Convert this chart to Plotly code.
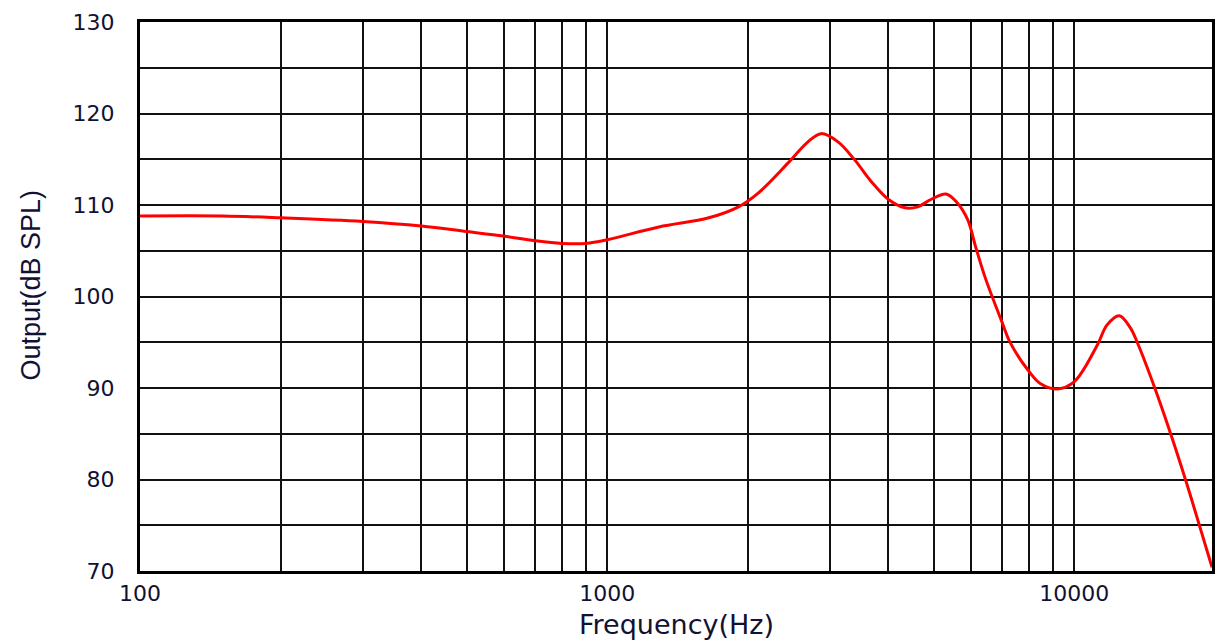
import plotly.graph_objects as go

# Frequency response
freq_hz = [100, 150, 200, 300, 400, 500, 600, 700, 800, 900, 1000, 1290, 1650,
           1910, 2105, 2440, 2690, 2870, 3120, 3390, 3670, 4000, 4340, 4620,
           4930, 5310, 5600, 5910, 6150, 6430, 7000, 7300, 8000, 8450, 9200,
           10000, 11200, 11750, 12480, 13170, 13630, 14890, 16100,
           17340, 18570, 19710]
output_db = [108.8, 108.8, 108.6, 108.2, 107.7, 107.1, 106.6, 106.1, 105.8,
             105.8, 106.2, 107.6, 108.6, 109.8, 111.3, 114.6, 116.9, 117.8,
             116.9, 114.9, 112.6, 110.6, 109.7, 109.8, 110.6, 111.2, 110.3,
             108.4, 105.4, 102.2, 97.2, 94.9, 91.8, 90.5, 89.9, 90.7,
             94.7, 96.9, 97.9, 96.6, 95.0, 89.9, 84.9, 79.8, 74.8, 70.4]

# Axis ticks / grid
x_grid = [100, 200, 300, 400, 500, 600, 700, 800, 900,
          1000, 2000, 3000, 4000, 5000, 6000, 7000, 8000, 9000, 10000]
x_labels = ["100", "", "", "", "", "", "", "", "",
            "1000", "", "", "", "", "", "", "", "", "10000"]
y_grid = [70, 75, 80, 85, 90, 95, 100, 105, 110, 115, 120, 125, 130]
y_labels = ["70", "", "80", "", "90", "", "100", "", "110", "", "120", "", "130"]

x_title = "Frequency(Hz)"
y_title = "Output(dB SPL)"

fig = go.Figure()
fig.add_trace(go.Scatter(
    x=freq_hz, y=output_db, mode="lines",
    line=dict(color="#ff0000", width=3, shape="spline", smoothing=1.0),
    showlegend=False, hoverinfo="x+y",
))

tick_font = dict(family="DejaVu Sans", size=22, color="#111133")

fig.update_layout(
    width=1217, height=641,
    margin=dict(l=140, r=2, t=22, b=70),
    paper_bgcolor="white", plot_bgcolor="white",
    xaxis=dict(
        type="log", range=[2, 4.2946],
        tickmode="array", tickvals=x_grid, ticktext=x_labels,
        showgrid=True, gridcolor="#111111", gridwidth=2,
        showline=True, linecolor="black", linewidth=3, mirror=True,
        ticks="", ticklabelstandoff=1, tickfont=tick_font,
        zeroline=False,
    ),
    yaxis=dict(
        range=[70, 130],
        tickmode="array", tickvals=y_grid, ticktext=y_labels,
        showgrid=True, gridcolor="#111111", gridwidth=2,
        showline=True, linecolor="black", linewidth=3, mirror=True,
        ticks="", ticklabelstandoff=18, tickfont=tick_font,
        zeroline=False,
    ),
    annotations=[
        dict(text=x_title, xref="paper", yref="paper", x=0.5, y=0,
             xanchor="center", yanchor="middle", yshift=-53, showarrow=False,
             font=dict(family="DejaVu Sans", size=27, color="#111133")),
        dict(text=y_title, xref="paper", yref="paper", x=0, y=0.5,
             xanchor="center", yanchor="middle", xshift=-110, yshift=11,
             textangle=-90, showarrow=False,
             font=dict(family="Liberation Sans", size=27, color="#111133")),
    ],
)

fig.write_html("out.html",
               config={"displayModeBar": False},
               post_script="document.body.style.margin='0';"
                           "document.body.style.overflow='hidden';")
